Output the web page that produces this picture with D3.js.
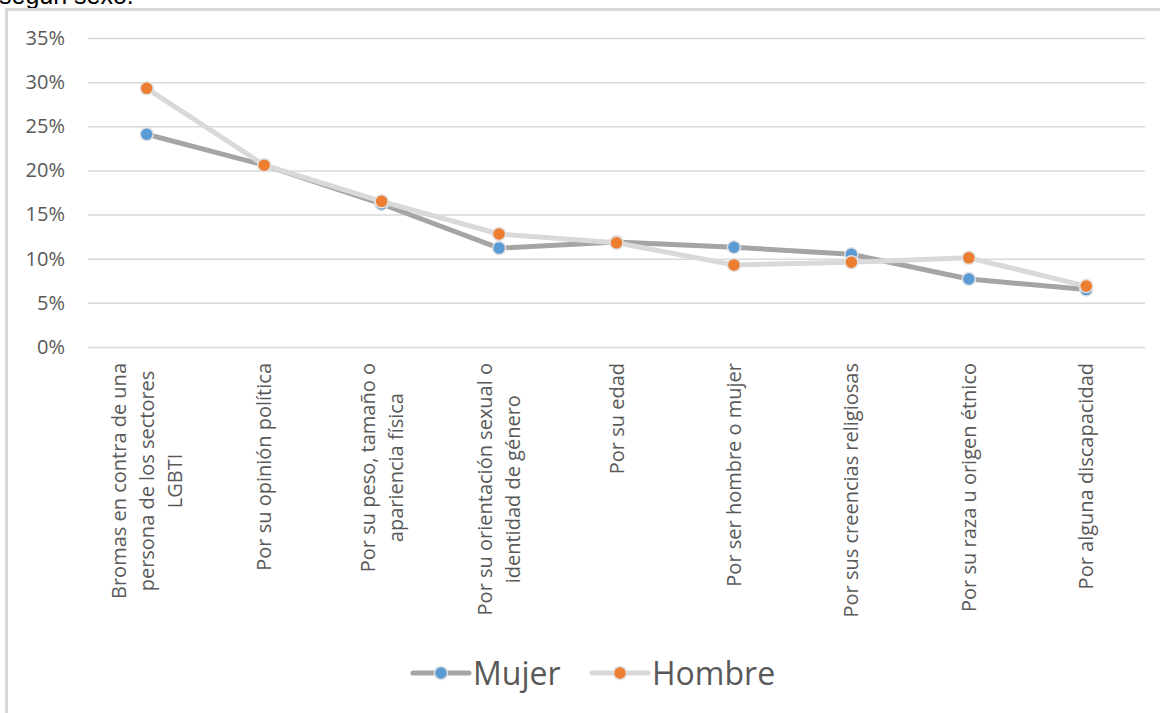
<!DOCTYPE html>
<html>
<head>
<meta charset="utf-8">
<script src="https://cdn.jsdelivr.net/npm/d3@7"></script>
<style>
  html, body { margin: 0; padding: 0; background: #fff; }
  svg { display: block; }
</style>
</head>
<body>
<svg id="chart" width="1160" height="713"></svg>
<script>
// Categories (each entry is a list of label lines) and percentages per sex
const categories = [
  ["Bromas en contra de una", "persona de los sectores", "LGBTI"],
  ["Por su opinión política"],
  ["Por su peso, tamaño o", "apariencia física"],
  ["Por su orientación sexual o", "identidad de género"],
  ["Por su edad"],
  ["Por ser hombre o mujer"],
  ["Por sus creencias religiosas"],
  ["Por su raza u origen étnico"],
  ["Por alguna discapacidad"]
];
const mujer  = [24.1, 20.6, 16.2, 11.2, 11.9, 11.3, 10.5, 7.7, 6.5];
const hombre = [29.3, 20.6, 16.5, 12.8, 11.8, 9.3, 9.6, 10.1, 6.9];
const yTicks = [0, 5, 10, 15, 20, 25, 30, 35];
const seriesNames = ["Mujer", "Hombre"];

const FONT = "'Open Sans', sans-serif";
const TEXT = "#595959";
const GRID = "#d9d9d9";

const svg = d3.select("#chart");

// caption line above the chart frame (cut off at the top)
svg.append("text")
  .attr("x", -1).attr("y", 4)
  .attr("font-family", "'Liberation Sans', Arial, sans-serif")
  .attr("font-size", 25).attr("fill", "#000")
  .text("según sexo.");

// chart frame
svg.append("rect")
  .attr("x", 6.5).attr("y", 9.5)
  .attr("width", 1300).attr("height", 900)
  .attr("fill", "#fff")
  .attr("stroke", GRID).attr("stroke-width", 3);

const plot = { left: 88, right: 1145, top: 38, bottom: 347 };

const x = d3.scalePoint()
  .domain(d3.range(categories.length))
  .range([plot.left, plot.right])
  .padding(0.5);

const y = d3.scaleLinear()
  .domain([0, 35])
  .range([plot.bottom, plot.top]);

// horizontal gridlines + y labels
const yAxis = d3.axisLeft(y)
  .tickValues(yTicks)
  .tickSize(-(plot.right - plot.left))
  .tickPadding(23)
  .tickFormat(d => d + "%");

const gy = svg.append("g")
  .attr("transform", `translate(${plot.left},0)`)
  .call(yAxis);
gy.select(".domain").remove();
gy.selectAll(".tick line").attr("stroke", GRID).attr("stroke-width", 1.5);
gy.selectAll(".tick text")
  .attr("font-family", FONT).attr("font-size", 20).attr("fill", TEXT);

// category labels, rotated, lines centred on the longest one
const labelTop = 363;
const lineGap = 28;
const gx = svg.append("g");
categories.forEach((lines, i) => {
  const g = gx.append("g");
  const texts = lines.map((ln, j) => g.append("text")
    .attr("font-family", FONT).attr("font-size", 20).attr("fill", TEXT)
    .attr("text-anchor", "middle")
    .text(ln));
  const maxLen = d3.max(texts, t => t.node().getComputedTextLength());
  const cy = labelTop + maxLen / 2;
  const n = lines.length;
  texts.forEach((t, j) => {
    const cx = x(i) + (j - (n - 1) / 2) * lineGap;
    t.attr("transform", `translate(${cx + 7},${cy}) rotate(-90)`);
  });
});

// series lines and markers
const series = [
  { name: seriesNames[0], values: mujer,  line: "#a5a5a5", marker: "#5b9bd5" },
  { name: seriesNames[1], values: hombre, line: "#d9d9d9", marker: "#ed7d31" }
];

const lineGen = d3.line()
  .x((d, i) => x(i))
  .y(d => y(d));

series.forEach(s => {
  const g = svg.append("g");
  g.append("path")
    .datum(s.values)
    .attr("d", lineGen)
    .attr("fill", "none")
    .attr("stroke", s.line)
    .attr("stroke-width", 5)
    .attr("stroke-linejoin", "round")
    .attr("stroke-linecap", "round");
  g.selectAll("circle")
    .data(s.values)
    .join("circle")
    .attr("cx", (d, i) => x(i))
    .attr("cy", d => y(d))
    .attr("r", 6.5)
    .attr("fill", s.marker)
    .attr("stroke", "#e0e0e0")
    .attr("stroke-width", 1.5);
});

// legend
const legendY = 673;
const legendItems = [
  { s: series[0], x0: 413 },
  { s: series[1], x0: 592 }
];
legendItems.forEach(({ s, x0 }) => {
  const g = svg.append("g");
  g.append("line")
    .attr("x1", x0).attr("x2", x0 + 56)
    .attr("y1", legendY).attr("y2", legendY)
    .attr("stroke", s.line).attr("stroke-width", 5)
    .attr("stroke-linecap", "round");
  g.append("circle")
    .attr("cx", x0 + 28).attr("cy", legendY).attr("r", 6.5)
    .attr("fill", s.marker).attr("stroke", "#e0e0e0").attr("stroke-width", 1.5);
  g.append("text")
    .attr("x", x0 + 60).attr("y", legendY)
    .attr("dy", "0.36em")
    .attr("font-family", FONT).attr("font-size", 32).attr("fill", TEXT)
    .text(s.name);
});
</script>
</body>
</html>
